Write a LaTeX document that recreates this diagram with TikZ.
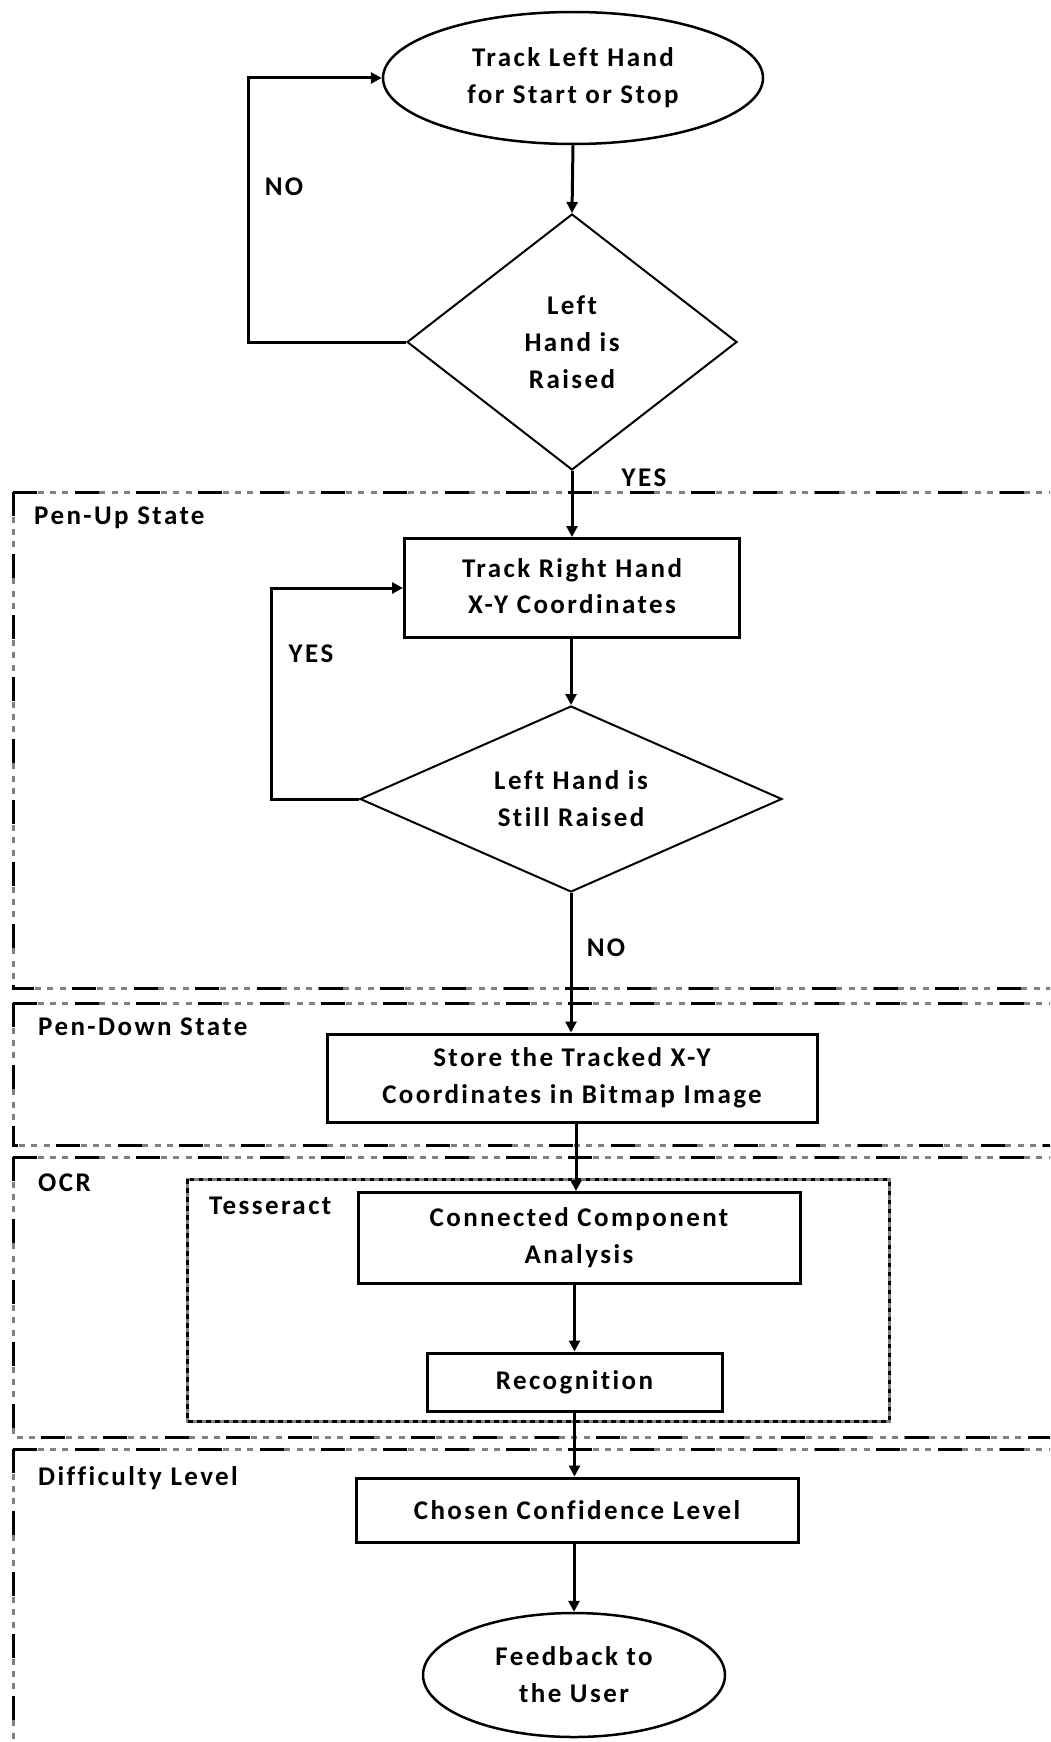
\documentclass[tikz,border=0pt]{standalone}
\usepackage{fontspec}
\setmainfont{Carlito}[LetterSpace=9, Ligatures=NoCommon]
\usetikzlibrary{shapes.geometric,arrows.meta}
\definecolor{fgray}{RGB}{128,128,128}
\tikzset{
  txt/.style={font=\fontsize{27}{37}\selectfont\bfseries, align=center, inner sep=0pt},
  box/.style={txt, draw, line width=3pt, rectangle},
  oval/.style={txt, draw, line width=2.5pt, ellipse},
  dia/.style={txt, draw, line width=2pt, diamond},
  arr/.style={line width=3pt, -{Triangle[length=11pt,width=11pt]}},
  lbl/.style={txt, anchor=west},
  framegray/.style={line width=3pt, fgray, dash pattern=on 6pt off 6.33pt},
  frameblack/.style={line width=3pt, black, dash pattern=on 24pt off 37.67pt},
  tessgray/.style={line width=3pt, fgray},
  tessblack/.style={line width=3pt, black, dash pattern=on 4.5pt off 4.5pt},
}
\begin{document}
\begin{tikzpicture}[x=1pt,y=-1pt]
\useasboundingbox (0,0) rectangle (1050,1742);
\clip (0,0) rectangle (1050,1742);
% frames
\foreach \ya/\yb in {492/988, 1003/1145, 1157/1437, 1449/1780}{
  \draw[framegray] (13,\ya) -- (1070,\ya) (13,\ya) -- (13,\yb) -- (1070,\yb);
  \draw[frameblack] (13,\ya) -- (1070,\ya) (13,\ya) -- (13,\yb) -- (1070,\yb);
}
\draw[tessgray] (187,1179) rectangle (889,1421);
\draw[tessblack] (187,1179) rectangle (889,1421);
% frame labels
\node[lbl] (l1) at (34,518) {Pen-Up State};
\node[lbl] (l2) at (38,1027) {Pen-Down State};
\node[lbl] (l3) at (38,1183) {OCR};
\node[lbl] (l4) at (38,1478) {Difficulty Level};
\node[lbl] (l5) at (209,1206) {Tesseract};
% nodes
\node[oval, minimum width=380pt, minimum height=132pt] (start) at (573,78) {Track Left Hand\\for Start or Stop};
\node[dia, shape aspect=1.29, minimum width=330pt, minimum height=256pt] (d1) at (572,342) {Left\\Hand is\\Raised};
\node[box, minimum width=335pt, minimum height=99pt] (b1) at (572,588) {\raisebox{4pt}{\shortstack{Track Right Hand\\[10pt]X-Y Coordinates}}};
\node[dia, shape aspect=2.27, minimum width=422pt, minimum height=186pt] (d2) at (571,799) {Left Hand is\\Still Raised};
\node[box, minimum width=490pt, minimum height=88pt] (b3) at (572,1078) {Store the Tracked X-Y\\Coordinates in Bitmap Image};
\node[box, minimum width=442pt, minimum height=91pt] (b4) at (579,1238) {Connected Component\\Analysis};
\node[box, minimum width=295pt, minimum height=58pt] (b5) at (574.5,1382) {Recognition};
\node[box, minimum width=442pt, minimum height=64pt] (b6) at (577,1510) {Chosen Confidence Level};
\node[oval, minimum width=302pt, minimum height=124pt] (end) at (574,1675) {Feedback to\\the User};
% labels
\node[txt] (no1) at (284,187) {NO};
\node[txt] (yes1) at (644,478) {YES};
\node[txt] (yes2) at (311,654) {YES};
\node[txt] (no2) at (606,948) {NO};
% connectors
\draw[arr] (start.south) -- (d1.north);
\draw[arr] (d1.west) -- ++(-158,0) |- (start.west);
\draw[arr] (d1.south) -- (b1.north);
\draw[arr] (b1.south -| d2.north) -- (d2.north);
\draw[arr] (d2.west) -- ++(-88,0) |- (b1.west);
\draw[arr] (d2.south) -- (d2.south |- b3.north);
\draw[arr] ([xshift=4pt]b3.south) -- ([xshift=4pt]b3.south |- b4.north);
\draw[arr] (b5.north |- b4.south) -- (b5.north);
\draw[arr] (b5.south) -- (b5.south |- b6.north);
\draw[arr] (end.north |- b6.south) -- (end.north);
\end{tikzpicture}
\end{document}
